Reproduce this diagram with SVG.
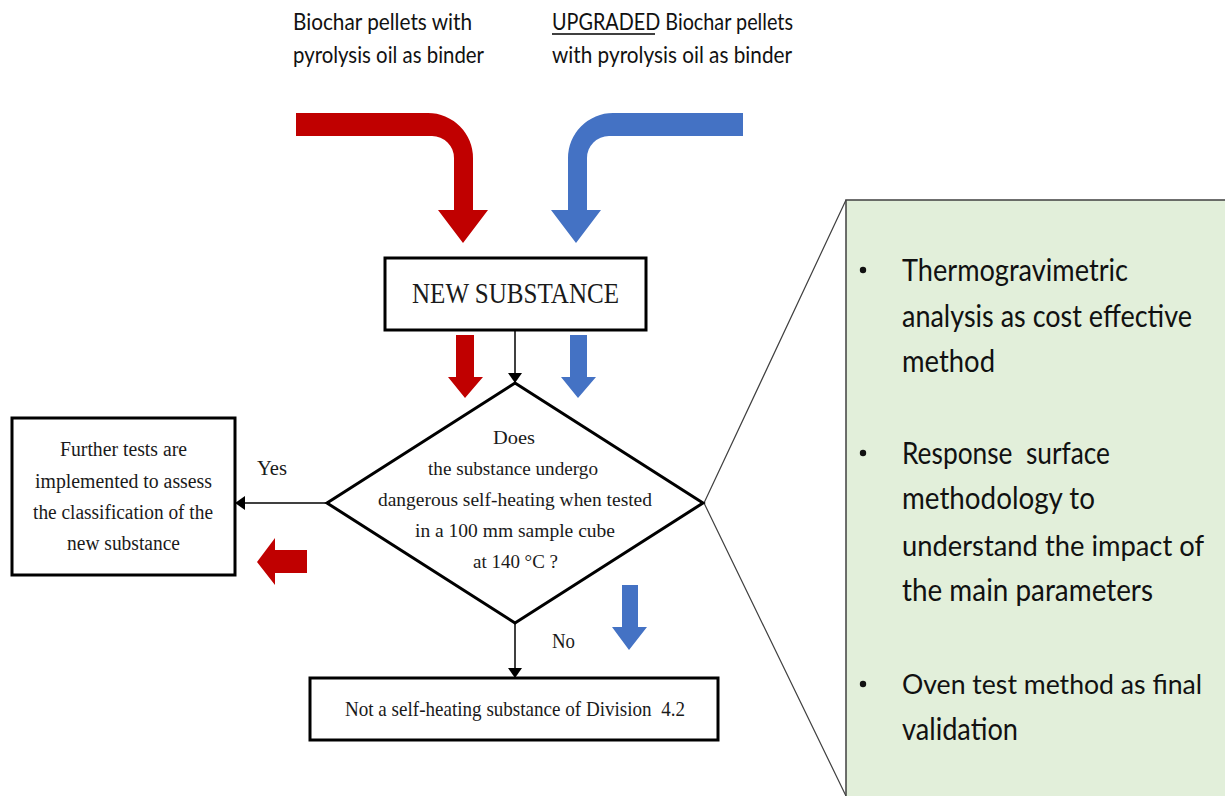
<svg xmlns="http://www.w3.org/2000/svg" width="1225" height="796" viewBox="0 0 1225 796">
<style>
.serif{font-family:"Liberation Serif","Times New Roman",serif;fill:#1a1a1a}
.sans{font-family:Lato,"Open Sans",sans-serif;fill:#111}
.box{fill:#fff;stroke:#000;stroke-width:3}
.conn{stroke:#000;stroke-width:1.5;fill:none}
.red{fill:#C00000}
.blue{fill:#4472C4}
.callout{stroke:#404040;stroke-width:1.2;fill:none}
</style>
<defs>
<marker id="ah" markerWidth="10" markerHeight="14" refX="10" refY="7" orient="auto" markerUnits="userSpaceOnUse">
<path d="M0,0 L10,7 L0,14 Z" fill="#000"/>
</marker>
</defs>
<rect width="1225" height="796" fill="#fff"/>

<g id="labels">
<text class="sans" x="293" y="30" font-size="23" textLength="179" lengthAdjust="spacingAndGlyphs">Biochar pellets with</text>
<text class="sans" x="293" y="63" font-size="23" textLength="191" lengthAdjust="spacingAndGlyphs">pyrolysis oil as binder</text>
<text class="sans" x="552" y="30" font-size="23" textLength="241" lengthAdjust="spacingAndGlyphs">UPGRADED Biochar pellets</text>
<line x1="552" y1="34" x2="655" y2="34" stroke="#000" stroke-width="1.5"/>
<text class="sans" x="552" y="63" font-size="23" textLength="240" lengthAdjust="spacingAndGlyphs">with pyrolysis oil as binder</text>
</g>

<g id="big-arrows">
<path class="red" d="M296,113 H428 A45,45 0 0 1 473,158 V210 H488 L463,243 L438,210 H454 V158 A22,22 0 0 0 432,136 H296 Z"/>
<path class="blue" d="M743,113 H613 A45,45 0 0 0 568,158 V210 H551 L576,243 L601,210 H587 V158 A22,22 0 0 1 609,136 H743 Z"/>
<path class="red" d="M456,335 H474 V377 H483 L465,398 L448,377 H456 Z"/>
<path class="blue" d="M570,335 H587 V377 H596 L578,398 L561,377 H570 Z"/>
<path class="red" d="M307,550 V573 H275 V585 L257,562 L275,538 V550 Z"/>
<path class="blue" d="M622,585 H638 V627 H647 L629,650 L612,627 H622 Z"/>
</g>

<g id="panel">
<path class="callout" d="M846,200 L704,503 L846,796"/>
<rect x="846" y="200" width="385" height="600" fill="#E2EFDA" stroke="#404040" stroke-width="1.5"/>
<g class="sans" font-size="30">
<circle cx="863" cy="270" r="3.2" fill="#111"/>
<text x="902" y="281" textLength="226" lengthAdjust="spacingAndGlyphs">Thermogravimetric</text>
<text x="902" y="327" textLength="290" lengthAdjust="spacingAndGlyphs">analysis as cost effective</text>
<text x="902" y="372" textLength="93" lengthAdjust="spacingAndGlyphs">method</text>
<circle cx="863" cy="453" r="3.2" fill="#111"/>
<text x="902" y="464" textLength="208" lengthAdjust="spacingAndGlyphs" xml:space="preserve">Response  surface</text>
<text x="902" y="509" textLength="193" lengthAdjust="spacingAndGlyphs">methodology to</text>
<text x="902" y="556" font-size="29" textLength="302" lengthAdjust="spacingAndGlyphs">understand the impact of</text>
<text x="902" y="601" textLength="251" lengthAdjust="spacingAndGlyphs">the main parameters</text>
<circle cx="863" cy="684" r="3.2" fill="#111"/>
<text x="902" y="694" font-size="27" textLength="300" lengthAdjust="spacingAndGlyphs">Oven test method as final</text>
<text x="902" y="740" textLength="116" lengthAdjust="spacingAndGlyphs">validation</text>
</g>
</g>

<g id="connectors">
<line class="conn" x1="515" y1="330" x2="515" y2="383" marker-end="url(#ah)"/>
<line class="conn" x1="327" y1="503" x2="235" y2="503" marker-end="url(#ah)"/>
<line class="conn" x1="515" y1="623" x2="515" y2="678" marker-end="url(#ah)"/>
<text class="serif" x="257" y="475" font-size="20" textLength="30" lengthAdjust="spacingAndGlyphs">Yes</text>
<text class="serif" x="552" y="648" font-size="20" textLength="23" lengthAdjust="spacingAndGlyphs">No</text>
</g>

<g id="new-substance">
<rect class="box" x="385" y="258" width="261" height="72"/>
<text class="serif" x="412" y="303" font-size="29" textLength="207" lengthAdjust="spacingAndGlyphs">NEW SUBSTANCE</text>
</g>

<g id="decision">
<path d="M515,383 L703,503 L515,623 L327,503 Z" fill="#fff" stroke="#000" stroke-width="3" stroke-linejoin="miter"/>
<g class="serif" font-size="19">
<text x="493" y="444" textLength="42" lengthAdjust="spacingAndGlyphs">Does</text>
<text x="428" y="475" textLength="170" lengthAdjust="spacingAndGlyphs">the substance undergo</text>
<text x="378" y="506" textLength="274" lengthAdjust="spacingAndGlyphs">dangerous self-heating when tested</text>
<text x="415" y="537" textLength="200" lengthAdjust="spacingAndGlyphs">in a 100 mm sample cube</text>
<text x="473" y="568" textLength="85" lengthAdjust="spacingAndGlyphs">at 140 °C ?</text>
</g>
</g>

<g id="further-tests">
<rect class="box" x="12" y="418" width="223" height="157"/>
<g class="serif" font-size="20">
<text x="60" y="456" textLength="127" lengthAdjust="spacingAndGlyphs">Further tests are</text>
<text x="35" y="488" textLength="177" lengthAdjust="spacingAndGlyphs">implemented to assess</text>
<text x="33" y="519" textLength="180" lengthAdjust="spacingAndGlyphs">the classification of the</text>
<text x="67" y="550" textLength="113" lengthAdjust="spacingAndGlyphs">new substance</text>
</g>
</g>

<g id="not-self-heating">
<rect class="box" x="310" y="678" width="408" height="62"/>
<text class="serif" x="345" y="716" font-size="21" textLength="340" lengthAdjust="spacingAndGlyphs" xml:space="preserve">Not a self-heating substance of Division  4.2</text>
</g>
</svg>
